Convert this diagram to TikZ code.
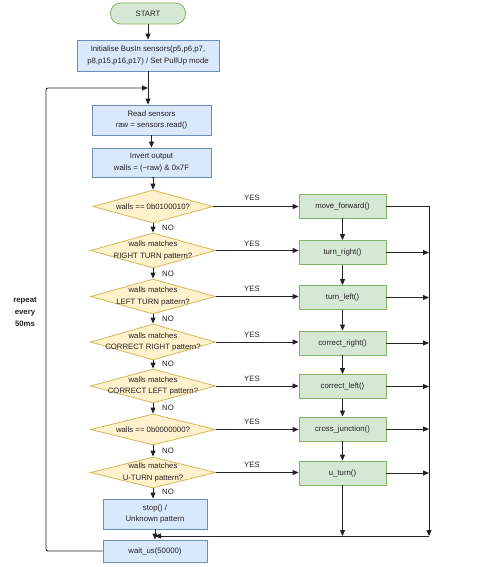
\documentclass[tikz,border=0pt]{standalone}
\usepackage{fontspec}
\setmainfont{Liberation Sans}
\usetikzlibrary{shapes.geometric,arrows.meta}
\definecolor{bfill}{HTML}{DAE8FC}
\definecolor{bstroke}{HTML}{6C8EBF}
\definecolor{gfill}{HTML}{D5E8D4}
\definecolor{gstroke}{HTML}{82B366}
\definecolor{yfill}{HTML}{FFF2CC}
\definecolor{ystroke}{HTML}{D6B656}
\definecolor{linec}{HTML}{222222}
\begin{document}
\begin{tikzpicture}[x=1bp,y=-1bp,
  every node/.style={font=\fontsize{7.8}{11.5}\selectfont, align=center, text=linec},
  bluebox/.style={draw=bstroke, fill=bfill, inner sep=0pt, line width=0.8bp},
  greenbox/.style={draw=gstroke, fill=gfill, inner sep=0pt, line width=0.8bp, minimum width=87bp, minimum height=24bp},
  dia/.style={diamond, draw=ystroke, fill=yfill, inner sep=0pt, line width=0.8bp, minimum width=125bp},
  arr/.style={-{Triangle[length=6bp,width=5bp]}, draw=linec, line width=0.9bp},
  ln/.style={draw=linec, line width=0.9bp},
  lbl/.style={font=\fontsize{7.8}{8}\selectfont}
]
\useasboundingbox (0,0) rectangle (500,567);

% main column
\node[draw=gstroke, fill=gfill, rounded corners=10bp, minimum width=75bp, minimum height=21bp, line width=0.8bp] (start) at (148,13.5) {START};
\node[bluebox, minimum width=142bp, minimum height=31bp] (init) at (148,55.5) {Initialise BusIn sensors(p5,p6,p7,\\p8,p15,p16,p17) / Set PullUp mode};
\node[bluebox, minimum width=119bp, minimum height=30bp] (read) at (151.5,120) {Read sensors\\raw = sensors.read()};
\node[bluebox, minimum width=119bp, minimum height=29bp] (inv) at (151.5,162.5) {Invert output\\walls = (\textasciitilde raw) \& 0x7F};

\node[dia, minimum width=120bp, minimum height=33bp, label={[align=center]center:walls == 0b0100010?}] (d1) at (153,206.5) {};
\node[dia, minimum height=35bp, label={[align=center]center:walls matches\\RIGHT TURN pattern?}] (d2) at (153,250.5) {};
\node[dia, minimum height=35bp, label={[align=center]center:walls matches\\LEFT TURN pattern?}] (d3) at (153,296.5) {};
\node[dia, minimum height=36bp, label={[align=center]center:walls matches\\CORRECT RIGHT pattern?}] (d4) at (153,342) {};
\node[dia, minimum height=34bp, label={[align=center]center:walls matches\\CORRECT LEFT pattern?}] (d5) at (153,386) {};
\node[dia, minimum height=31bp, label={[align=center]center:walls == 0b0000000?}] (d6) at (153,429.5) {};
\node[dia, minimum height=31bp, label={[align=center]center:walls matches\\U-TURN pattern?}] (d7) at (153,472.5) {};

\node[bluebox, minimum width=104bp, minimum height=30bp] (stop) at (155,514) {stop() /\\Unknown pattern};
\node[bluebox, minimum width=104bp, minimum height=22bp] (wait) at (155,551) {wait\_us(50000)};

% action column
\node[greenbox] (a1) at (342.5,206) {move\_forward()};
\node[greenbox] (a2) at (342.5,252.5) {turn\_right()};
\node[greenbox] (a3) at (342.5,297.5) {turn\_left()};
\node[greenbox] (a4) at (342.5,343) {correct\_right()};
\node[greenbox] (a5) at (342.5,386.5) {correct\_left()};
\node[greenbox] (a6) at (342.5,429) {cross\_junction()};
\node[greenbox] (a7) at (342.5,473) {u\_turn()};

% repeat label
\node[font=\bfseries\fontsize{7.8}{12}\selectfont] (rep) at (25,312) {repeat\\every\\50ms};

% helper coordinates
\coordinate (rtop) at (429,206);
\coordinate (rbot) at (429,536);
\coordinate (mgA) at (342.5,536);
\coordinate (mg) at (155,536);
\coordinate (lpA) at (46,551);
\coordinate (lpB) at (46,88);
\coordinate (lpC) at (148,88);

% main flow
\draw[arr] (start) -- (init);
\draw[arr] (init.south) -- (init.south |- read.north);
\draw[arr] (read) -- (inv);
\draw[arr] (inv.south) -- (inv.south -| d1.north) -- (d1.north);
\draw[arr] (d1) -- (d2);
\draw[arr] (d2) -- (d3);
\draw[arr] (d3) -- (d4);
\draw[arr] (d4) -- (d5);
\draw[arr] (d5) -- (d6);
\draw[arr] (d6) -- (d7);
\draw[arr] (d7.south) -- (d7.south |- stop.north);
\draw[arr] (stop) -- (wait);

% yes branches
\draw[arr] (d1.east) -- (d1.east -| a1.west);
\draw[arr] (d2.east) -- (d2.east -| a2.west);
\draw[arr] (d3.east) -- (d3.east -| a3.west);
\draw[arr] (d4.east) -- (d4.east -| a4.west);
\draw[arr] (d5.east) -- (d5.east -| a5.west);
\draw[arr] (d6.east) -- (d6.east -| a6.west);
\draw[arr] (d7.east) -- (d7.east -| a7.west);

% action chain
\draw[arr] (a1) -- (a2);
\draw[arr] (a2) -- (a3);
\draw[arr] (a3) -- (a4);
\draw[arr] (a4) -- (a5);
\draw[arr] (a5) -- (a6);
\draw[arr] (a6) -- (a7);
\draw[arr] (a7) -- (mgA);

% right collector
\draw[ln] (a1.east) -- (rtop);
\draw[arr] (rtop) -- (rbot);
\draw[arr] (a2.east) -- (a2.east -| rtop);
\draw[arr] (a3.east) -- (a3.east -| rtop);
\draw[arr] (a4.east) -- (a4.east -| rtop);
\draw[arr] (a5.east) -- (a5.east -| rtop);
\draw[arr] (a6.east) -- (a6.east -| rtop);
\draw[arr] (a7.east) -- (a7.east -| rtop);
\draw[arr] (rbot) -- (mg);

% loop back
\draw[arr, rounded corners=2bp] (wait.west) -- (lpA) -- (lpB) -- (lpC);

% labels
\node[lbl] (y1) at (252,198) {YES};
\node[lbl] (y2) at (252,244) {YES};
\node[lbl] (y3) at (252,289) {YES};
\node[lbl] (y4) at (252,335) {YES};
\node[lbl] (y5) at (252,379) {YES};
\node[lbl] (y6) at (252,422) {YES};
\node[lbl] (y7) at (252,465) {YES};
\node[lbl] (n1) at (168,228) {NO};
\node[lbl] (n2) at (168,274) {NO};
\node[lbl] (n3) at (168,319) {NO};
\node[lbl] (n4) at (168,364) {NO};
\node[lbl] (n5) at (168,408) {NO};
\node[lbl] (n6) at (168,451) {NO};
\node[lbl] (n7) at (168,492) {NO};
\end{tikzpicture}
\end{document}
